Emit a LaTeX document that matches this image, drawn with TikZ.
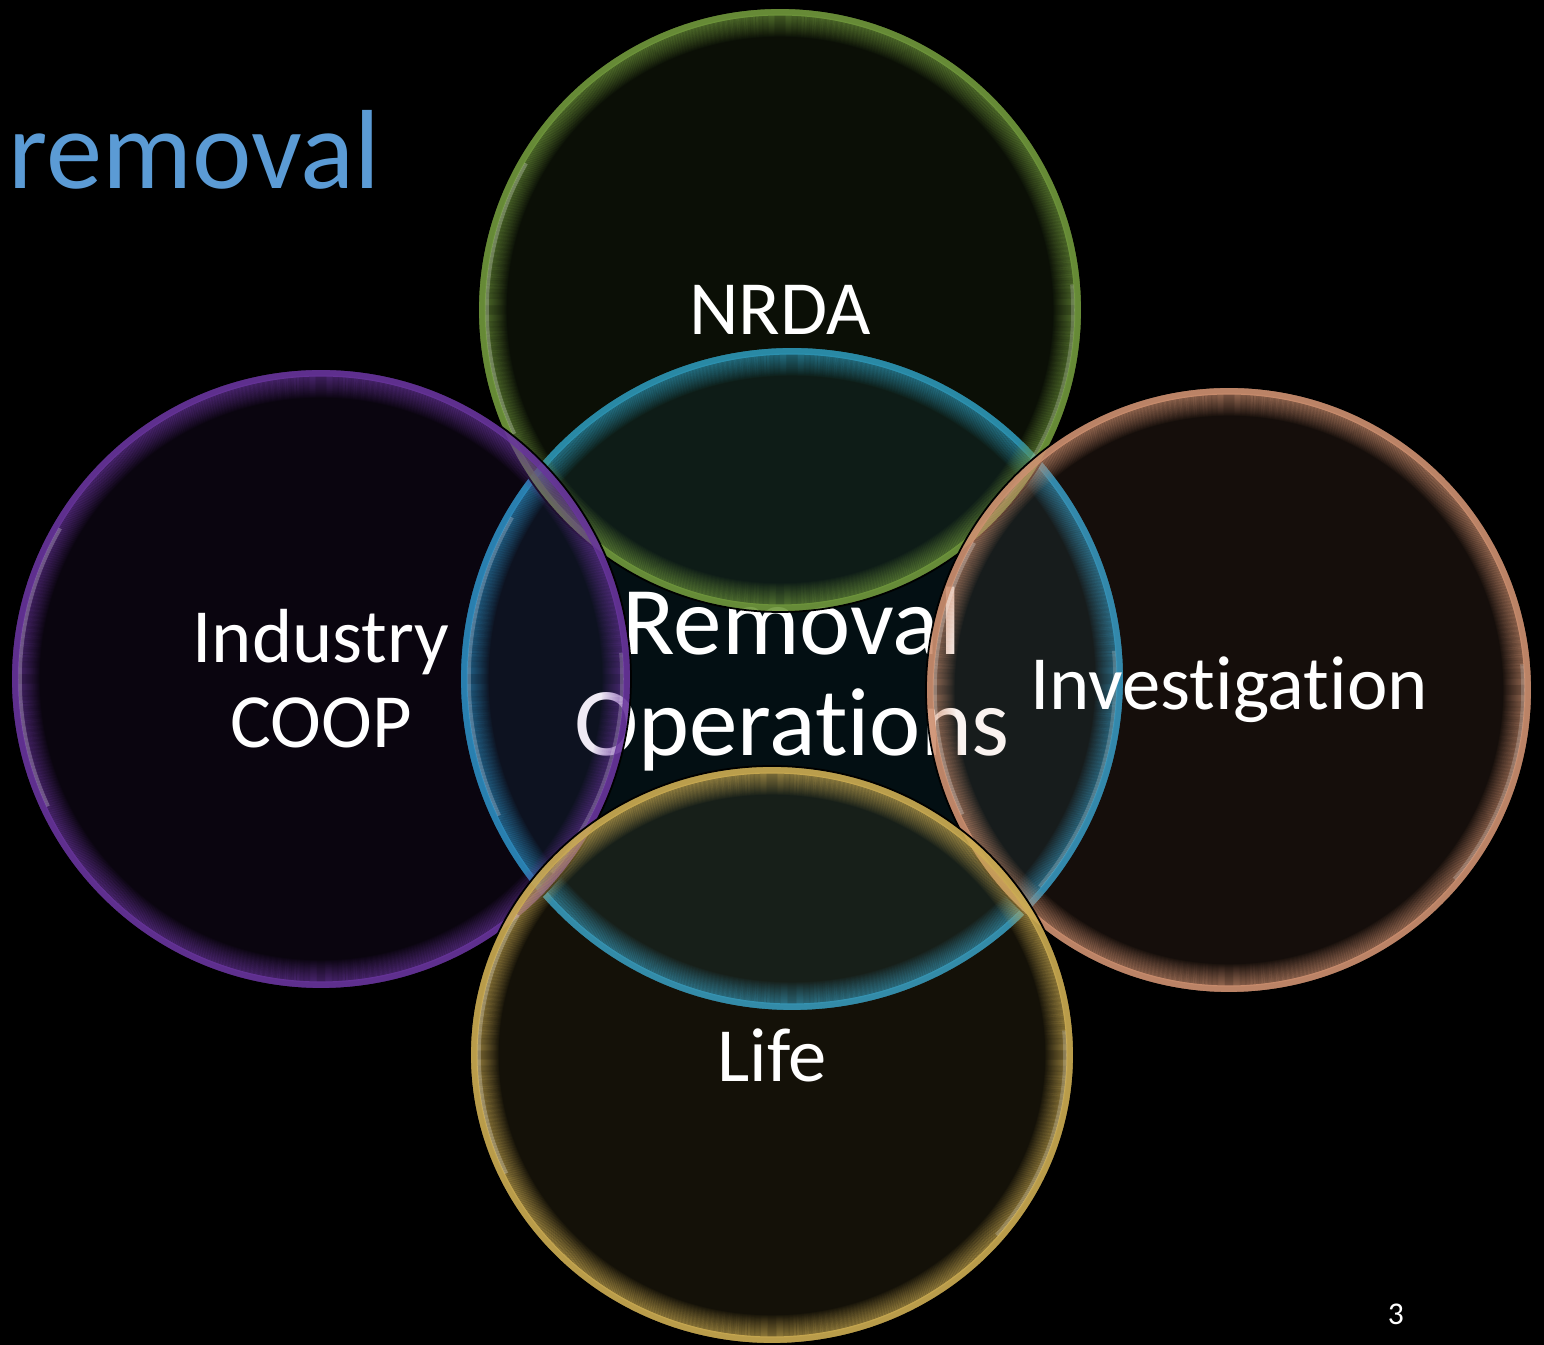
\documentclass[tikz,border=0pt]{standalone}
\usepackage{fontspec}
\setmainfont{Carlito}[Ligatures=NoCommon]
\usepackage{tikz}
\usetikzlibrary{positioning}
\usetikzlibrary{shapes.geometric}

\definecolor{nrdagreen}{RGB}{112,152,60}
\definecolor{opsblue}{RGB}{38,150,196}
\definecolor{coopviolet}{RGB}{104,52,156}
\definecolor{invpeach}{RGB}{206,144,112}
\definecolor{lifegold}{RGB}{204,172,82}
\definecolor{titleblue}{RGB}{91,155,213}

% glowing rim of a bubble: node, x radius, y radius, colour
\newcommand{\bubblerim}[4]{%
  \foreach \k [evaluate=\k as \op using 0.5-0.022*\k] in {0,...,21}
    \draw[#4, line width=0.4pt, opacity=\op] (#1.center)
      ellipse[x radius=#2-7-\k, y radius=#3-7-\k];
  \draw[#4, line width=2pt, opacity=0.9] (#1.center)
    ellipse[x radius=#2-4, y radius=#3-4];
  \draw[white, line width=1pt, opacity=0.25] (#1.center) ++(150:{#2-9} and {#3-9})
    arc[start angle=150, end angle=205, x radius=#2-9, y radius=#3-9];
  \draw[white, line width=1pt, opacity=0.2] (#1.center) ++(-40:{#2-9} and {#3-9})
    arc[start angle=-40, end angle=5, x radius=#2-9, y radius=#3-9];
  \draw[black, line width=0.5pt] (#1.center) ellipse[x radius=#2, y radius=#3];
}

\begin{document}
\begin{tikzpicture}[x=0.01cm, y=0.01cm,
    bubble/.style={circle, fill=#1, fill opacity=0.1, text opacity=1,
      text=white, inner sep=0pt, align=center,
      font=\fontsize{21.8}{24.2}\selectfont},
    bigtext/.style={font=\fontsize{27.6}{28.7}\selectfont}, ]
    \useasboundingbox[fill=black] (0,0) rectangle (1544,1345);
    % Nodes
    \node[bubble=opsblue, bigtext, minimum size=6.64cm] (ops) at (792,666)
      {Removal\\Operations};
    \bubblerim{ops}{332}{332}{opsblue}
    \node[bubble=nrdagreen, minimum size=6.04cm] (nrda) at (780,1035) {NRDA};
    \bubblerim{nrda}{302}{302}{nrdagreen}
    \node[bubble=coopviolet, minimum size=6.2cm] (coop) at (321,666)
      {Industry\\COOP};
    \bubblerim{coop}{310}{310}{coopviolet}
    \node[bubble=invpeach, minimum size=6.06cm] (inv) at (1229,655)
      {Investigation};
    \bubblerim{inv}{303}{303}{invpeach}
    \node[bubble=lifegold, ellipse, minimum width=6.04cm, minimum height=5.78cm]
      (life) at (772,290) {Life};
    \bubblerim{life}{302}{289}{lifegold}
    % Text
    \node[anchor=base west, inner sep=0pt, text=titleblue,
      font=\fontsize{32}{35}\selectfont] (title) at (8,1156) {removal};
    \node[anchor=base, inner sep=0pt, text=white,
      font=\fontsize{9}{10}\selectfont] (pagenum) at (1396,20) {3};
  \end{tikzpicture}
\end{document}
